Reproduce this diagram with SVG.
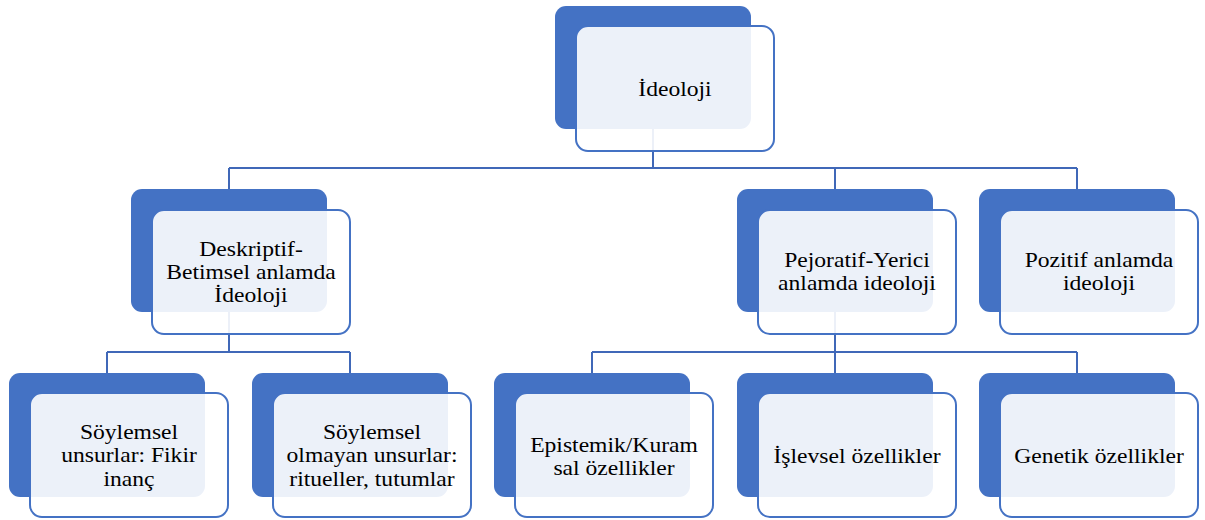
<svg xmlns="http://www.w3.org/2000/svg" width="1205" height="520" viewBox="0 0 1205 520">
<style>
.bk{fill:#4472C4;}
.fr{fill:#FFFFFF;fill-opacity:0.9;stroke:#4472C4;stroke-width:2;}
.cn{fill:none;stroke:#4068B8;stroke-width:2;}
.t{font-family:"Liberation Serif",serif;font-size:20px;fill:#000;text-anchor:middle;}
</style>
<rect width="1205" height="520" fill="#FFFFFF"/>
<g id="connectors">
<path class="cn" d="M653,129 V168 M229,168 H1077 M229,168 V189 M835,168 V189 M1077,168 V189"/>
<path class="cn" d="M229,312 V352 M107,352 H350 M107,352 V373 M350,352 V373"/>
<path class="cn" d="M835,312 V352 M592,352 H1077 M592,352 V373 M835,352 V373 M1077,352 V373"/>
</g>
<g id="n-ideoloji">
<rect class="bk" x="555" y="6" width="196" height="123" rx="11"/>
<rect class="fr" x="576" y="26" width="198" height="125" rx="12"/>
<g transform="translate(675,0) scale(1.18,1)"><text class="t" x="0" y="96.5">İdeoloji</text></g>
</g>
<g id="n-deskriptif">
<rect class="bk" x="131" y="189" width="196" height="123" rx="11"/>
<rect class="fr" x="152" y="210" width="198" height="124" rx="12"/>
<g transform="translate(251,0) scale(1.18,1)"><text class="t" x="0" y="256.5">Deskriptif-</text><text class="t" x="0" y="279.5">Betimsel anlamda</text><text class="t" x="0" y="302.5">İdeoloji</text></g>
</g>
<g id="n-pejoratif">
<rect class="bk" x="737" y="189" width="196" height="123" rx="11"/>
<rect class="fr" x="758" y="210" width="198" height="124" rx="12"/>
<g transform="translate(857,0) scale(1.18,1)"><text class="t" x="0" y="267.5">Pejoratif-Yerici</text><text class="t" x="0" y="290.5">anlamda ideoloji</text></g>
</g>
<g id="n-pozitif">
<rect class="bk" x="979" y="189" width="196" height="123" rx="11"/>
<rect class="fr" x="1000" y="210" width="198" height="124" rx="12"/>
<g transform="translate(1099,0) scale(1.18,1)"><text class="t" x="0" y="267.5">Pozitif anlamda</text><text class="t" x="0" y="290.5">ideoloji</text></g>
</g>
<g id="n-soylemsel">
<rect class="bk" x="9" y="373" width="196" height="124" rx="11"/>
<rect class="fr" x="30" y="393" width="198" height="124" rx="12"/>
<g transform="translate(129,0) scale(1.18,1)"><text class="t" x="0" y="439">Söylemsel</text><text class="t" x="0" y="462.5">unsurlar: Fikir</text><text class="t" x="0" y="486">inanç</text></g>
</g>
<g id="n-soylemsel-olmayan">
<rect class="bk" x="252" y="373" width="196" height="124" rx="11"/>
<rect class="fr" x="273" y="393" width="198" height="124" rx="12"/>
<g transform="translate(372,0) scale(1.18,1)"><text class="t" x="0" y="439">Söylemsel</text><text class="t" x="0" y="462.5">olmayan unsurlar:</text><text class="t" x="0" y="486">ritueller, tutumlar</text></g>
</g>
<g id="n-epistemik">
<rect class="bk" x="494" y="373" width="196" height="124" rx="11"/>
<rect class="fr" x="515" y="393" width="198" height="124" rx="12"/>
<g transform="translate(614,0) scale(1.18,1)"><text class="t" x="0" y="452.5">Epistemik/Kuram</text><text class="t" x="0" y="475.5">sal özellikler</text></g>
</g>
<g id="n-islevsel">
<rect class="bk" x="737" y="373" width="196" height="124" rx="11"/>
<rect class="fr" x="758" y="393" width="198" height="124" rx="12"/>
<g transform="translate(857,0) scale(1.18,1)"><text class="t" x="0" y="463">İşlevsel özellikler</text></g>
</g>
<g id="n-genetik">
<rect class="bk" x="979" y="373" width="196" height="124" rx="11"/>
<rect class="fr" x="1000" y="393" width="198" height="124" rx="12"/>
<g transform="translate(1099,0) scale(1.18,1)"><text class="t" x="0" y="463">Genetik özellikler</text></g>
</g>
</svg>
